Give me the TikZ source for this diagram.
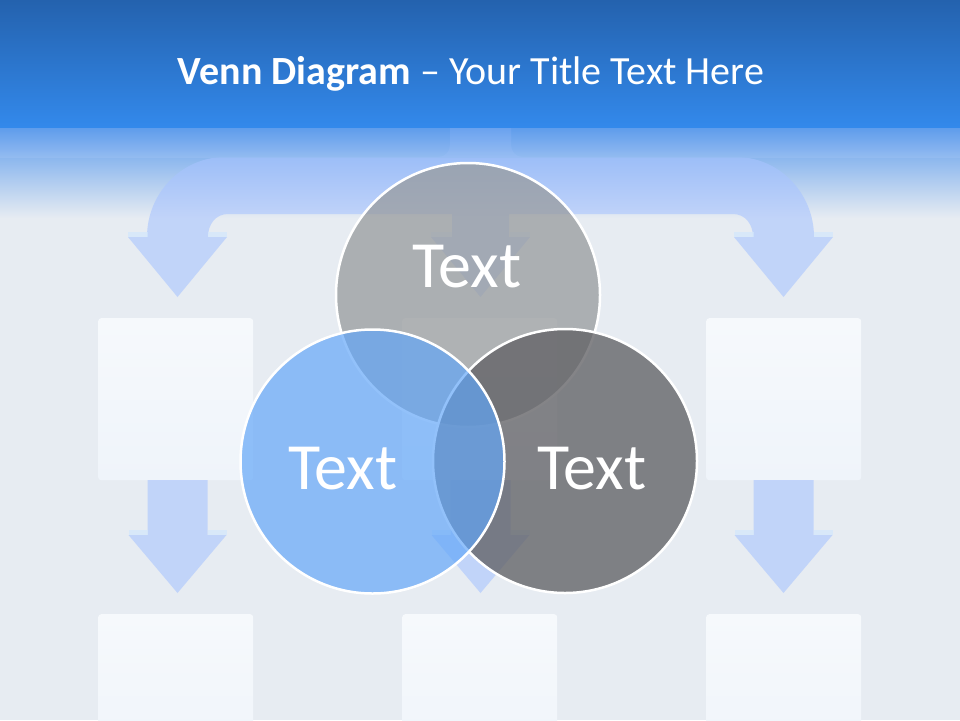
\documentclass[tikz,border=0pt]{standalone}
\usepackage{fontspec}
\setmainfont{Carlito}
\definecolor{bgc}{HTML}{E7ECF2}
\definecolor{bandtop}{HTML}{2462AE}
\definecolor{bandbot}{HTML}{3389EB}
\definecolor{fadetop}{HTML}{5C9BEC}
\definecolor{fademid}{HTML}{B4CEF3}
\definecolor{fadeedge}{HTML}{96BDF2}
\definecolor{arrowc}{HTML}{A9C4FF}
\definecolor{shoulder}{HTML}{D3E7FC}
\definecolor{boxtop}{HTML}{F6F9FC}
\definecolor{boxbot}{HTML}{EFF4FA}
\definecolor{topgray}{HTML}{989B9D}
\definecolor{darkgray}{HTML}{636367}
\definecolor{bluec}{HTML}{62A6F8}
\begin{document}
\begin{tikzpicture}[x=1pt,y=-1pt,
  arrowfill/.style={fill=arrowc, fill opacity=0.6},
  shoulderfill/.style={fill=shoulder, fill opacity=0.7},
  boxstyle/.style={top color=boxtop, bottom color=boxbot, draw=none, rounded corners=3pt,
    minimum width=155pt, minimum height=162pt, anchor=north west, inner sep=0pt},
  circ/.style={circle, minimum size=264pt, inner sep=0pt, draw=white, line width=2.5pt},
  lbl/.style={text=white, font=\fontsize{66}{66}\selectfont, anchor=base, inner sep=0pt},
]
\useasboundingbox (0,0) rectangle (960,720);
% background
\fill[bgc] (0,0) rectangle (960,720);
\shade[top color=fadetop, middle color=fademid, bottom color=bgc] (0,126) rectangle (960,218);
% tree of arrows
\fill[arrowfill] (450,127) -- (450,145) .. controls (450,152) and (445,157) .. (438,157)
 -- (225,157) .. controls (182,157) and (147,193) .. (147,237)
 -- (128,237) -- (177.5,297) -- (227,237) -- (208,237)
 .. controls (208,224) and (216,214) .. (228,214)
 -- (452,214) -- (452,237) -- (431,237) -- (480.5,297) -- (530,237) -- (509,237) -- (509,214)
 -- (733,214) .. controls (745,214) and (753,224) .. (753,237)
 -- (734,237) -- (783.5,297) -- (833,237) -- (814,237)
 .. controls (814,193) and (779,157) .. (736,157)
 -- (523,157) .. controls (516,157) and (511,152) .. (511,145) -- (511,127) -- cycle;
\shade[top color=fadetop, bottom color=fadeedge, opacity=0.75] (0,126) rectangle (960,157);
\foreach \cx/\hw in {177.5/30, 480.5/29, 783.5/30}{
  \fill[shoulderfill] (\cx-49.5,232) rectangle (\cx-\hw,237);
  \fill[shoulderfill] (\cx+\hw,232) rectangle (\cx+49.5,237);
}
% top band and title
\shade[top color=bandtop, bottom color=bandbot] (0,0) rectangle (960,127);
\node[anchor=base, text=white, font=\fontsize{40}{44}\selectfont, inner sep=0pt] (title) at (471,84)
  {\textbf{Venn Diagram} – Your Title Text Here};
% boxes
\node[boxstyle] (b1) at (98,318) {};
\node[boxstyle] (b2) at (402,318) {};
\node[boxstyle] (b3) at (706,318) {};
\node[boxstyle] (b4) at (98,614) {};
\node[boxstyle] (b5) at (402,614) {};
\node[boxstyle] (b6) at (706,614) {};
% down arrows between rows
\foreach \cx in {177.5, 480.5, 783.5}{
  \fill[arrowfill] (\cx-30,480) -- (\cx+30,480) -- (\cx+30,535) -- (\cx+49,535)
    -- (\cx,593) -- (\cx-49,535) -- (\cx-30,535) -- cycle;
  \fill[shoulderfill] (\cx-49,530) rectangle (\cx-30,535);
  \fill[shoulderfill] (\cx+30,530) rectangle (\cx+49,535);
}
% circles
\node[circ, fill=topgray, fill opacity=0.75, draw opacity=1] (ctop) at (468,295) {};
\node[circ, fill=darkgray, fill opacity=0.79, draw opacity=1] (cright) at (565,461) {};
\node[circ, fill=bluec, fill opacity=0.69, draw opacity=1] (cleft) at (372.5,461.5) {};
% labels
\node[lbl] (ttop) at (467,287) {Text};
\node[lbl] (tleft) at (343,489) {Text};
\node[lbl] (tright) at (592,489) {Text};
\end{tikzpicture}
\end{document}
